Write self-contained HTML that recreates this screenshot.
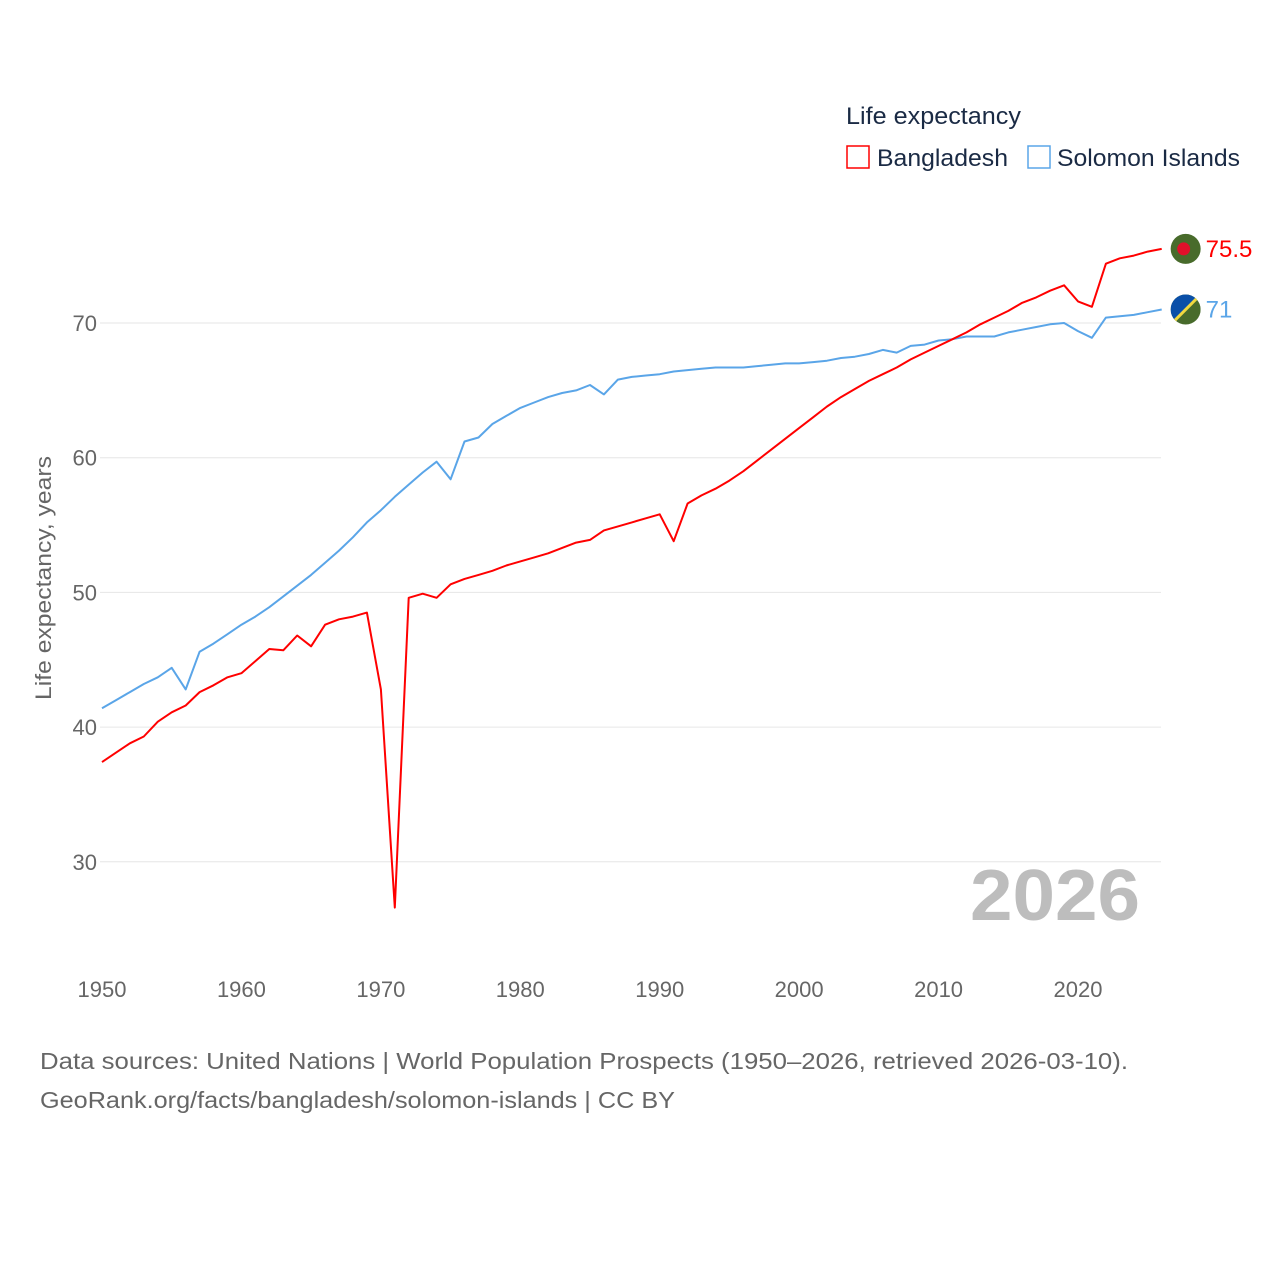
<!DOCTYPE html>
<html><head><meta charset="utf-8"><style>
html,body{margin:0;padding:0;background:#fff;width:1280px;height:1280px;overflow:hidden;font-family:"Liberation Sans",sans-serif;}
</style></head><body>
<svg id="chart" width="1280" height="1280" xmlns="http://www.w3.org/2000/svg" font-family="Liberation Sans, sans-serif">
<g id="grid"></g>
<g id="yticks"></g>
<g id="xticks"></g>
<text x="970" y="920" textLength="170" lengthAdjust="spacingAndGlyphs" font-size="72" font-weight="bold" fill="#bdbdbd">2026</text>
<g id="lines"></g>
<text transform="translate(51,578) rotate(-90)" text-anchor="middle" textLength="244" lengthAdjust="spacingAndGlyphs" font-size="22" fill="#666">Life expectancy, years</text>
<g>
<text x="846" y="124" textLength="175" lengthAdjust="spacingAndGlyphs" font-size="24" fill="#1a2a44">Life expectancy</text>
<rect x="847" y="146" width="22" height="22" fill="none" stroke="#ff0000" stroke-width="1.5"/>
<text x="877" y="166" textLength="131" lengthAdjust="spacingAndGlyphs" font-size="24" fill="#1a2a44">Bangladesh</text>
<rect x="1028" y="146" width="22" height="22" fill="none" stroke="#5aa5e8" stroke-width="1.5"/>
<text x="1057" y="166" textLength="183" lengthAdjust="spacingAndGlyphs" font-size="24" fill="#1a2a44">Solomon Islands</text>
</g>
<text x="40" y="1069" textLength="1088" lengthAdjust="spacingAndGlyphs" font-size="23" fill="#666">Data sources: United Nations | World Population Prospects (1950–2026, retrieved 2026-03-10).</text>
<text x="40" y="1108" textLength="635" lengthAdjust="spacingAndGlyphs" font-size="23" fill="#666">GeoRank.org/facts/bangladesh/solomon-islands | CC BY</text>
</svg>
<script>
const years=[];for(let y=1950;y<=2026;y++)years.push(y);
const bangladesh=[37.4,38.1,38.8,39.3,40.4,41.1,41.6,42.6,43.1,43.7,44.0,44.9,45.8,45.7,46.8,46.0,47.6,48.0,48.2,48.5,42.8,26.6,49.6,49.9,49.6,50.6,51.0,51.3,51.6,52.0,52.3,52.6,52.9,53.3,53.7,53.9,54.6,54.9,55.2,55.5,55.8,53.8,56.6,57.2,57.7,58.3,59.0,59.8,60.6,61.4,62.2,63.0,63.8,64.5,65.1,65.7,66.2,66.7,67.3,67.8,68.3,68.8,69.3,69.9,70.4,70.9,71.5,71.9,72.4,72.8,71.6,71.2,74.4,74.8,75.0,75.3,75.5];
const solomon=[41.4,42.0,42.6,43.2,43.7,44.4,42.8,45.6,46.2,46.9,47.6,48.2,48.9,49.7,50.5,51.3,52.2,53.1,54.1,55.2,56.1,57.1,58.0,58.9,59.7,58.4,61.2,61.5,62.5,63.1,63.7,64.1,64.5,64.8,65.0,65.4,64.7,65.8,66.0,66.1,66.2,66.4,66.5,66.6,66.7,66.7,66.7,66.8,66.9,67.0,67.0,67.1,67.2,67.4,67.5,67.7,68.0,67.8,68.3,68.4,68.7,68.8,69.0,69.0,69.0,69.3,69.5,69.7,69.9,70.0,69.4,68.9,70.4,70.5,70.6,70.8,71.0];
const yTicks=[30,40,50,60,70];
const xTicks=[1950,1960,1970,1980,1990,2000,2010,2020];
const X=y=>102+(y-1950)*(976/70);
const Y=v=>323+(70-v)*13.47;
const NS="http://www.w3.org/2000/svg";
function mk(t,a,p){const e=document.createElementNS(NS,t);for(const k in a)e.setAttribute(k,a[k]);p.appendChild(e);return e;}
const grid=document.getElementById('grid'),yt=document.getElementById('yticks'),xt=document.getElementById('xticks'),ln=document.getElementById('lines');
yTicks.forEach(v=>{
 const l=mk('line',{x1:100,x2:1161,y1:Y(v),y2:Y(v),stroke:'#e6e6e6','stroke-width':1},grid);
 
 
 const t=mk('text',{x:97,y:Y(v)+8,'text-anchor':'end','font-size':22,fill:'#666'},yt);
 t.textContent=v;
 
 
});
xTicks.forEach(v=>{
 const t=mk('text',{x:X(v),y:997,'text-anchor':'middle','font-size':22,fill:'#666'},xt);
 t.textContent=v;
 
 
});
function line(data,color,name){
 const d=data.map((v,i)=>(i?'L':'M')+X(years[i]).toFixed(1)+','+Y(v).toFixed(1)).join('');
 const p=mk('path',{d:d,fill:'none',stroke:color,'stroke-width':2,'stroke-linejoin':'round'},ln);
 
 
}
line(solomon,'#5aa5e8','line-solomon-islands');
line(bangladesh,'#ff0000','line-bangladesh');
const n=years.length-1;
const bx=X(years[n])+24,by=Y(bangladesh[n]);
const g1=mk('g',{},ln);


mk('circle',{cx:bx,cy:by,r:15,fill:'#486b2b'},g1);
mk('circle',{cx:bx-2,cy:by,r:6.5,fill:'#e0102a'},g1);
const l1=mk('text',{x:bx+20,y:by+8,'font-size':24,fill:'#ff0000'},ln);
l1.textContent=bangladesh[n];


const sx=X(years[n])+24,sy=Y(solomon[n]);
const g2=mk('g',{},ln);


const cp=mk('clipPath',{id:'sc'},g2);mk('circle',{cx:sx,cy:sy,r:15},cp);
mk('rect',{x:sx-15,y:sy-15,width:30,height:30,fill:'#486b2b','clip-path':'url(#sc)'},g2);
mk('polygon',{points:`${sx-15},${sy-15} ${sx+15},${sy-15} ${sx-15},${sy+15}`,fill:'#0a4fa8','clip-path':'url(#sc)'},g2);
mk('line',{x1:sx+15,y1:sy-15,x2:sx-15,y2:sy+15,stroke:'#f0d840','stroke-width':3,'clip-path':'url(#sc)'},g2);
const l2=mk('text',{x:sx+20,y:sy+8,'font-size':24,fill:'#5aa5e8'},ln);
l2.textContent=solomon[n];


</script>
</body></html>
